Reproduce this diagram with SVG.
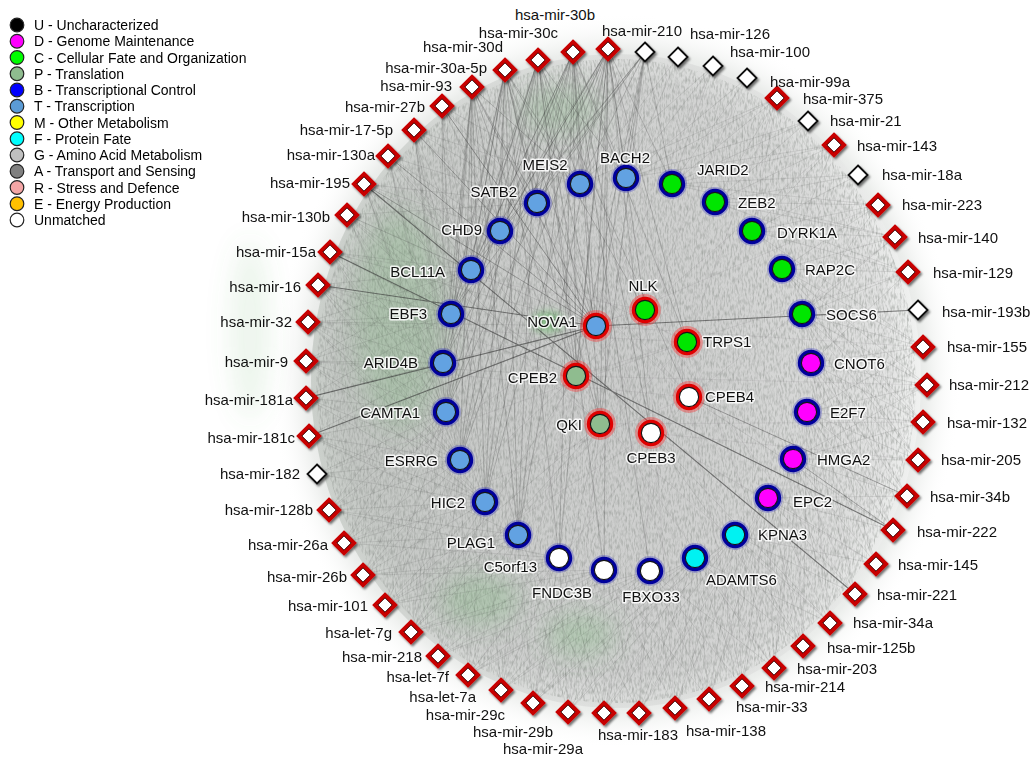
<svg xmlns="http://www.w3.org/2000/svg" width="1035" height="760" viewBox="0 0 1035 760">
<style>
  text { font-family: "Liberation Sans", Arial, sans-serif; }
  .m { font-size: 15px; fill: #111; }
  .g { font-size: 15px; fill: #111; stroke: #fff; stroke-width: 3; stroke-opacity: .85; paint-order: stroke; stroke-linejoin: round; }
  .lg { font-size: 14px; fill: #000; }
  .e { fill: none; stroke: #454545; stroke-opacity: .17; stroke-width: .7; }
  .eh { fill: none; stroke: #3a3a3a; stroke-opacity: .3; stroke-width: .8; }
  .ex { fill: none; stroke: #5a4a5a; stroke-opacity: .12; stroke-width: .7; }
  .d { fill: none; stroke: #333; stroke-opacity: .6; stroke-width: 1.1; }
  .d2 { fill: none; stroke: #333; stroke-opacity: .38; stroke-width: .9; }
  .in { stroke: #151515; stroke-width: 1.1; }
  .fT { fill: #62a2e2; } .fC { fill: #00e600; } .fD { fill: #ff00ff; }
  .fF { fill: #00f2f2; } .fP { fill: #8fbc8f; } .fU { fill: #fff; }
  .lc { stroke: #222; stroke-width: 1.2; }
</style>
<defs>
  <filter id="sh" x="-60%" y="-60%" width="220%" height="220%">
    <feDropShadow dx="1.6" dy="2" stdDeviation="1.1" flood-color="#000" flood-opacity=".55"/>
  </filter>
  <filter id="grain" x="0" y="0" width="1" height="1">
    <feTurbulence type="fractalNoise" baseFrequency="0.55 0.18" numOctaves="2" seed="4"/>
    <feColorMatrix type="matrix" values="0 0 0 0 .25  0 0 0 0 .27  0 0 0 0 .25  0 0 0 2.2 -0.9"/>
    <feComposite in2="SourceGraphic" operator="in"/>
  </filter>
  <filter id="blur12" x="-50%" y="-50%" width="200%" height="200%"><feGaussianBlur stdDeviation="12"/></filter>
  <filter id="blur5" x="-50%" y="-50%" width="200%" height="200%"><feGaussianBlur stdDeviation="5"/></filter>
  <radialGradient id="halo" cx=".5" cy=".5" r=".5">
    <stop offset="0" stop-color="#d4d5d4"/>
    <stop offset=".8" stop-color="#dadbda"/>
    <stop offset=".9" stop-color="#eceeec"/>
    <stop offset="1" stop-color="#fff" stop-opacity="0"/>
  </radialGradient>
  <linearGradient id="side" x1="0" y1="0" x2="1" y2="0">
    <stop offset="0" stop-color="#7d8a7d" stop-opacity=".28"/>
    <stop offset=".45" stop-color="#8a8a8a" stop-opacity=".12"/>
    <stop offset="1" stop-color="#fff" stop-opacity=".35"/>
  </linearGradient>
  <!-- miRNA diamonds -->
  <g id="dR" filter="url(#sh)">
    <path d="M0-10L10 0L0 10L-10 0Z" fill="#fff" stroke="#c80000" stroke-width="4"/>
    <path d="M0-7.2L7.2 0L0 7.2L-7.2 0Z" fill="none" stroke="#2a0000" stroke-width=".9"/>
  </g>
  <g id="dW" filter="url(#sh)">
    <path d="M0-9.5L9.5 0L0 9.5L-9.5 0Z" fill="#fff" stroke="#111" stroke-width="1.8"/>
  </g>
  <!-- gene rings -->
  <g id="rB">
    <circle r="12" fill="none" stroke="#3030c0" stroke-opacity=".3" stroke-width="6"/>
    <circle r="11.4" fill="none" stroke="#00009c" stroke-width="3.6"/>
  </g>
  <g id="rR">
    <circle r="12.4" fill="none" stroke="#ff2020" stroke-opacity=".35" stroke-width="7"/>
    <circle r="11.4" fill="none" stroke="#e00000" stroke-width="3.6"/>
  </g>
</defs>

<rect width="1035" height="760" fill="#fff"/>

<!-- network backdrop -->
<g id="backdrop">
  <ellipse cx="616" cy="381" rx="345" ry="368" fill="url(#halo)"/>
  <ellipse cx="616" cy="381" rx="305" ry="327" fill="url(#side)"/>
  <ellipse cx="616" cy="381" rx="300" ry="322" fill="#000" opacity=".55" filter="url(#grain)"/>
  <g fill="#5faa5f" filter="url(#blur12)">
    <ellipse cx="400" cy="320" rx="45" ry="110" opacity=".22"/>
    <ellipse cx="480" cy="600" rx="40" ry="25" opacity=".25"/>
    <ellipse cx="580" cy="635" rx="35" ry="22" opacity=".25"/>
    <ellipse cx="560" cy="110" rx="40" ry="25" opacity=".2"/>
    <ellipse cx="250" cy="330" rx="20" ry="90" opacity=".12"/>
  </g>
  <ellipse cx="548" cy="322" rx="16" ry="10" fill="#3fb03f" opacity=".45" filter="url(#blur5)"/>
</g>

<!-- connectors -->
<g id="edges">
  <path class="eh" d="M608 49L580 184M608 49L626 178M608 49L537 203M608 49L500 231M608 49L471 270M608 49L451 314M608 49L443 363M608 49L446 412M608 49L460 460M608 49L485 502M608 49L518 535M608 49L559 558M608 49L604 570M608 49L596 326M608 49L645 310M608 49L576 376M608 49L600 424M608 49L651 433M608 49L672 184M608 49L687 342"/>
  <path class="eh" d="M573 52L580 184M573 52L537 203M573 52L500 231M573 52L471 270M573 52L451 314M573 52L443 363M573 52L446 412M573 52L460 460M573 52L485 502M573 52L518 535M573 52L559 558M573 52L596 326M573 52L576 376M573 52L600 424M573 52L626 178M573 52L650 571M573 52L651 433M573 52L687 342"/>
  <path class="eh" d="M538 60L580 184M538 60L537 203M538 60L500 231M538 60L471 270M538 60L451 314M538 60L443 363M538 60L446 412M538 60L460 460M538 60L485 502M538 60L518 535M538 60L596 326M538 60L576 376M538 60L600 424M538 60L604 570M538 60L626 178M538 60L689 397"/>
  <path class="eh" d="M505 70L537 203M505 70L500 231M505 70L471 270M505 70L451 314M505 70L443 363M505 70L446 412M505 70L460 460M505 70L485 502M505 70L518 535M505 70L559 558M505 70L596 326M505 70L576 376M505 70L580 184M505 70L600 424M505 70L645 310"/>
  <path class="eh" d="M472 87L537 203M472 87L500 231M472 87L471 270M472 87L451 314M472 87L443 363M472 87L446 412M472 87L460 460M472 87L485 502M472 87L596 326M472 87L580 184M472 87L576 376M472 87L518 535"/>
  <path class="eh" d="M645 52L580 184M645 52L626 178M645 52L537 203M645 52L500 231M645 52L672 184M645 52L596 326M645 52L576 376M645 52L600 424M645 52L471 270M645 52L451 314"/>
  <path class="e" d="M442 106L500 231M442 106L471 270M442 106L451 314M442 106L443 363M442 106L446 412M442 106L460 460M442 106L596 326M442 106L580 184M442 106L537 203M442 106L576 376M442 106L485 502"/>
  <path class="e" d="M414 130L500 231M414 130L471 270M414 130L451 314M414 130L443 363M414 130L446 412M414 130L460 460M414 130L537 203M414 130L580 184M414 130L485 502M414 130L518 535"/>
  <path class="e" d="M388 156L471 270M388 156L451 314M388 156L443 363M388 156L446 412M388 156L537 203M388 156L500 231M388 156L460 460M388 156L576 376"/>
  <path class="e" d="M364 184L471 270M364 184L451 314M364 184L443 363M364 184L446 412M364 184L500 231M364 184L537 203M364 184L460 460M364 184L485 502M364 184L600 424"/>
  <path class="e" d="M347 215L451 314M347 215L443 363M347 215L446 412M347 215L596 326M347 215L471 270M347 215L460 460M347 215L576 376M347 215L537 203"/>
  <path class="e" d="M330 252L451 314M330 252L471 270M330 252L443 363M330 252L446 412M330 252L596 326M330 252L460 460"/>
  <path class="e" d="M318 285L451 314M318 285L443 363M318 285L446 412M318 285L471 270M318 285L460 460M318 285L485 502"/>
  <path class="e" d="M308 322L443 363M308 322L446 412M308 322L451 314M308 322L460 460M308 322L471 270M308 322L485 502M308 322L596 326"/>
  <path class="e" d="M306 361L443 363M306 361L446 412M306 361L451 314M306 361L460 460M306 361L485 502M306 361L471 270M306 361L576 376"/>
  <path class="e" d="M306 398L446 412M306 398L443 363M306 398L460 460M306 398L451 314M306 398L485 502"/>
  <path class="e" d="M309 436L446 412M309 436L460 460M309 436L443 363M309 436L485 502M309 436L518 535"/>
  <path class="e" d="M317 474L446 412M317 474L460 460M317 474L485 502"/>
  <path class="e" d="M329 510L460 460M329 510L485 502M329 510L446 412M329 510L518 535M329 510L443 363M329 510L559 558"/>
  <path class="e" d="M344 543L485 502M344 543L460 460M344 543L518 535M344 543L446 412M344 543L559 558M344 543L443 363"/>
  <path class="e" d="M363 575L485 502M363 575L518 535M363 575L460 460M363 575L559 558M363 575L446 412M363 575L604 570"/>
  <path class="e" d="M385 605L518 535M385 605L485 502M385 605L559 558M385 605L460 460M385 605L604 570M385 605L446 412M385 605L600 424"/>
  <path class="e" d="M411 632L518 535M411 632L559 558M411 632L485 502M411 632L604 570M411 632L460 460M411 632L650 571M411 632L446 412M411 632L600 424M411 632L576 376"/>
  <path class="e" d="M438 656L559 558M438 656L518 535M438 656L604 570M438 656L485 502M438 656L650 571M438 656L460 460"/>
  <path class="e" d="M468 675L559 558M468 675L604 570M468 675L518 535M468 675L650 571M468 675L485 502M468 675L695 558M468 675L460 460"/>
  <path class="e" d="M501 690L604 570M501 690L559 558M501 690L650 571M501 690L518 535M501 690L695 558M501 690L485 502"/>
  <path class="e" d="M533 703L604 570M533 703L650 571M533 703L559 558M533 703L695 558M533 703L518 535M533 703L735 535M533 703L600 424"/>
  <path class="e" d="M568 712L604 570M568 712L650 571M568 712L559 558M568 712L695 558M568 712L518 535M568 712L735 535"/>
  <path class="e" d="M604 713L650 571M604 713L604 570M604 713L695 558M604 713L559 558M604 713L735 535M604 713L518 535"/>
  <path class="e" d="M639 713L650 571M639 713L695 558M639 713L604 570M639 713L735 535M639 713L559 558M639 713L768 498"/>
  <path class="e" d="M675 708L695 558M675 708L650 571M675 708L735 535M675 708L604 570M675 708L768 498"/>
  <path class="e" d="M709 699L695 558M709 699L735 535M709 699L650 571M709 699L768 498M709 699L604 570M709 699L793 459"/>
  <path class="e" d="M742 686L735 535M742 686L695 558M742 686L768 498M742 686L650 571M742 686L793 459"/>
  <path class="e" d="M774 668L735 535M774 668L768 498M774 668L695 558M774 668L793 459M774 668L650 571M774 668L807 412"/>
  <path class="e" d="M803 646L768 498M803 646L735 535M803 646L793 459M803 646L695 558M803 646L807 412M803 646L651 433"/>
  <path class="e" d="M830 623L768 498M830 623L793 459M830 623L735 535M830 623L807 412M830 623L695 558M830 623L651 433"/>
  <path class="e" d="M855 594L793 459M855 594L768 498M855 594L807 412M855 594L735 535M855 594L811 363"/>
  <path class="e" d="M876 564L793 459M876 564L807 412M876 564L768 498M876 564L811 363M876 564L735 535"/>
  <path class="e" d="M893 530L807 412M893 530L811 363M893 530L768 498M893 530L802 314M893 530L689 397"/>
  <path class="e" d="M907 496L807 412M907 496L811 363M907 496L793 459M907 496L802 314M907 496L768 498"/>
  <path class="e" d="M918 460L811 363M918 460L807 412M918 460L793 459M918 460L802 314M918 460L782 269"/>
  <path class="e" d="M923 422L811 363M923 422L807 412M923 422L802 314M923 422L793 459M923 422L782 269"/>
  <path class="e" d="M927 385L811 363M927 385L802 314M927 385L807 412M927 385L782 269M927 385L793 459"/>
  <path class="e" d="M923 347L802 314M923 347L811 363M923 347L782 269M923 347L807 412M923 347L752 231"/>
  <path class="e" d="M908 272L782 269M908 272L802 314M908 272L752 231M908 272L811 363M908 272L715 202"/>
  <path class="e" d="M895 237L752 231M895 237L782 269M895 237L715 202M895 237L802 314M895 237L672 184"/>
  <path class="e" d="M878 205L752 231M878 205L715 202M878 205L782 269M878 205L672 184M878 205L802 314"/>
  <path class="e" d="M858 175L715 202M858 175L752 231M858 175L672 184"/>
  <path class="e" d="M834 145L715 202M834 145L672 184M834 145L752 231M834 145L626 178M834 145L782 269"/>
  <path class="e" d="M808 121L672 184M808 121L715 202M808 121L626 178"/>
  <path class="e" d="M777 98L672 184M777 98L626 178M777 98L715 202M777 98L752 231M777 98L580 184"/>
  <path class="e" d="M747 78L626 178M747 78L672 184M713 66L626 178M713 66L580 184M713 66L672 184M678 57L626 178M678 57L580 184"/>
  <!-- long edges across the ring -->
  <path class="ex" d="M923 347L596 326M927 385L576 376M923 422L600 424M918 460L651 433M907 496L689 397M876 564L651 433M830 623L600 424M774 668L576 376M709 699L596 326M639 713L651 433M568 712L600 424M501 690L576 376M438 656L596 326M385 605L651 433M344 543L689 397M317 474L687 342M306 398L645 310M308 322L687 342M330 252L645 310M364 184L687 342M414 130L689 397M472 87L651 433M538 60L645 310M573 52L689 397M713 66L596 326M747 78L645 310M777 98L687 342M834 145L645 310M878 205L596 326M895 237L689 397M908 272L576 376"/>
  <path class="ex" d="M855 594L645 310M803 646L687 342M742 686L689 397M675 708L645 310M604 713L687 342M533 703L645 310M468 675L689 397M411 632L687 342M363 575L645 310M329 510L596 326M306 361L689 397M318 285L576 376M347 215L600 424M388 156L651 433M442 106L689 397M505 70L651 433M608 49L689 397"/>
  <!-- prominent edges -->
  <path class="d2" d="M414 130L596 326M442 106L596 326M388 156L596 326M364 184L596 326M793 459L893 530M689 397L907 496"/>
  <path class="d" d="M318 285L596 326M330 252L893 530M306 398L596 326M309 436L596 326M918 310L596 326M364 184L855 594"/>
</g>

<!-- genes, outer ring -->
<g id="g-MEIS2"><use href="#rB" x="580" y="184"/><circle class="in fT" cx="580" cy="184" r="9.6"/><text class="g" x="545" y="170" text-anchor="middle">MEIS2</text></g>
<g id="g-BACH2"><use href="#rB" x="626" y="178"/><circle class="in fT" cx="626" cy="178" r="9.6"/><text class="g" x="625" y="163" text-anchor="middle">BACH2</text></g>
<g id="g-JARID2"><use href="#rB" x="672" y="184"/><circle class="in fC" cx="672" cy="184" r="9.6"/><text class="g" x="697" y="175">JARID2</text></g>
<g id="g-ZEB2"><use href="#rB" x="715" y="202"/><circle class="in fC" cx="715" cy="202" r="9.6"/><text class="g" x="738" y="208">ZEB2</text></g>
<g id="g-DYRK1A"><use href="#rB" x="752" y="231"/><circle class="in fC" cx="752" cy="231" r="9.6"/><text class="g" x="777" y="238">DYRK1A</text></g>
<g id="g-RAP2C"><use href="#rB" x="782" y="269"/><circle class="in fC" cx="782" cy="269" r="9.6"/><text class="g" x="805" y="275">RAP2C</text></g>
<g id="g-SOCS6"><use href="#rB" x="802" y="314"/><circle class="in fC" cx="802" cy="314" r="9.6"/><text class="g" x="826" y="320">SOCS6</text></g>
<g id="g-CNOT6"><use href="#rB" x="811" y="363"/><circle class="in fD" cx="811" cy="363" r="9.6"/><text class="g" x="834" y="369">CNOT6</text></g>
<g id="g-E2F7"><use href="#rB" x="807" y="412"/><circle class="in fD" cx="807" cy="412" r="9.6"/><text class="g" x="830" y="418">E2F7</text></g>
<g id="g-HMGA2"><use href="#rB" x="793" y="459"/><circle class="in fD" cx="793" cy="459" r="9.6"/><text class="g" x="817" y="465">HMGA2</text></g>
<g id="g-EPC2"><use href="#rB" x="768" y="498"/><circle class="in fD" cx="768" cy="498" r="9.6"/><text class="g" x="793" y="507">EPC2</text></g>
<g id="g-KPNA3"><use href="#rB" x="735" y="535"/><circle class="in fF" cx="735" cy="535" r="9.6"/><text class="g" x="758" y="540">KPNA3</text></g>
<g id="g-ADAMTS6"><use href="#rB" x="695" y="558"/><circle class="in fF" cx="695" cy="558" r="9.6"/><text class="g" x="706" y="585">ADAMTS6</text></g>
<g id="g-FBXO33"><use href="#rB" x="650" y="571"/><circle class="in fU" cx="650" cy="571" r="9.6"/><text class="g" x="651" y="602" text-anchor="middle">FBXO33</text></g>
<g id="g-FNDC3B"><use href="#rB" x="604" y="570"/><circle class="in fU" cx="604" cy="570" r="9.6"/><text class="g" x="562" y="598" text-anchor="middle">FNDC3B</text></g>
<g id="g-C5orf13"><use href="#rB" x="559" y="558"/><circle class="in fU" cx="559" cy="558" r="9.6"/><text class="g" x="537" y="572" text-anchor="end">C5orf13</text></g>
<g id="g-PLAG1"><use href="#rB" x="518" y="535"/><circle class="in fT" cx="518" cy="535" r="9.6"/><text class="g" x="495" y="548" text-anchor="end">PLAG1</text></g>
<g id="g-HIC2"><use href="#rB" x="485" y="502"/><circle class="in fT" cx="485" cy="502" r="9.6"/><text class="g" x="465" y="508" text-anchor="end">HIC2</text></g>
<g id="g-ESRRG"><use href="#rB" x="460" y="460"/><circle class="in fT" cx="460" cy="460" r="9.6"/><text class="g" x="438" y="466" text-anchor="end">ESRRG</text></g>
<g id="g-CAMTA1"><use href="#rB" x="446" y="412"/><circle class="in fT" cx="446" cy="412" r="9.6"/><text class="g" x="420" y="418" text-anchor="end">CAMTA1</text></g>
<g id="g-ARID4B"><use href="#rB" x="443" y="363"/><circle class="in fT" cx="443" cy="363" r="9.6"/><text class="g" x="418" y="368" text-anchor="end">ARID4B</text></g>
<g id="g-EBF3"><use href="#rB" x="451" y="314"/><circle class="in fT" cx="451" cy="314" r="9.6"/><text class="g" x="427" y="319" text-anchor="end">EBF3</text></g>
<g id="g-BCL11A"><use href="#rB" x="471" y="270"/><circle class="in fT" cx="471" cy="270" r="9.6"/><text class="g" x="445" y="277" text-anchor="end">BCL11A</text></g>
<g id="g-CHD9"><use href="#rB" x="500" y="231"/><circle class="in fT" cx="500" cy="231" r="9.6"/><text class="g" x="482" y="235" text-anchor="end">CHD9</text></g>
<g id="g-SATB2"><use href="#rB" x="537" y="203"/><circle class="in fT" cx="537" cy="203" r="9.6"/><text class="g" x="517" y="197" text-anchor="end">SATB2</text></g>

<!-- genes, inner group -->
<g id="g-NOVA1"><use href="#rR" x="596" y="326"/><circle class="in fT" cx="596" cy="326" r="9.6"/><text class="g" x="577" y="327" text-anchor="end">NOVA1</text></g>
<g id="g-NLK"><use href="#rR" x="645" y="310"/><circle class="in fC" cx="645" cy="310" r="9.6"/><text class="g" x="643" y="291" text-anchor="middle">NLK</text></g>
<g id="g-TRPS1"><use href="#rR" x="687" y="342"/><circle class="in fC" cx="687" cy="342" r="9.6"/><text class="g" x="703" y="347">TRPS1</text></g>
<g id="g-CPEB2"><use href="#rR" x="576" y="376"/><circle class="in fP" cx="576" cy="376" r="9.6"/><text class="g" x="557" y="383" text-anchor="end">CPEB2</text></g>
<g id="g-CPEB4"><use href="#rR" x="689" y="397"/><circle class="in fU" cx="689" cy="397" r="9.6"/><text class="g" x="705" y="402">CPEB4</text></g>
<g id="g-QKI"><use href="#rR" x="600" y="424"/><circle class="in fP" cx="600" cy="424" r="9.6"/><text class="g" x="582" y="430" text-anchor="end">QKI</text></g>
<g id="g-CPEB3"><use href="#rR" x="651" y="433"/><circle class="in fU" cx="651" cy="433" r="9.6"/><text class="g" x="651" y="463" text-anchor="middle">CPEB3</text></g>

<!-- miRNAs -->
<g id="m-30b"><use href="#dR" x="608" y="49"/><text class="m" x="595" y="20" text-anchor="end">hsa-mir-30b</text></g>
<g id="m-30c"><use href="#dR" x="573" y="52"/><text class="m" x="558" y="38" text-anchor="end">hsa-mir-30c</text></g>
<g id="m-30d"><use href="#dR" x="538" y="60"/><text class="m" x="503" y="52" text-anchor="end">hsa-mir-30d</text></g>
<g id="m-30a-5p"><use href="#dR" x="505" y="70"/><text class="m" x="487" y="73" text-anchor="end">hsa-mir-30a-5p</text></g>
<g id="m-93"><use href="#dR" x="472" y="87"/><text class="m" x="452" y="91" text-anchor="end">hsa-mir-93</text></g>
<g id="m-27b"><use href="#dR" x="442" y="106"/><text class="m" x="425" y="112" text-anchor="end">hsa-mir-27b</text></g>
<g id="m-17-5p"><use href="#dR" x="414" y="130"/><text class="m" x="393" y="135" text-anchor="end">hsa-mir-17-5p</text></g>
<g id="m-130a"><use href="#dR" x="388" y="156"/><text class="m" x="375" y="160" text-anchor="end">hsa-mir-130a</text></g>
<g id="m-195"><use href="#dR" x="364" y="184"/><text class="m" x="350" y="188" text-anchor="end">hsa-mir-195</text></g>
<g id="m-130b"><use href="#dR" x="347" y="215"/><text class="m" x="330" y="222" text-anchor="end">hsa-mir-130b</text></g>
<g id="m-15a"><use href="#dR" x="330" y="252"/><text class="m" x="316" y="257" text-anchor="end">hsa-mir-15a</text></g>
<g id="m-16"><use href="#dR" x="318" y="285"/><text class="m" x="301" y="292" text-anchor="end">hsa-mir-16</text></g>
<g id="m-32"><use href="#dR" x="308" y="322"/><text class="m" x="292" y="327" text-anchor="end">hsa-mir-32</text></g>
<g id="m-9"><use href="#dR" x="306" y="361"/><text class="m" x="288" y="367" text-anchor="end">hsa-mir-9</text></g>
<g id="m-181a"><use href="#dR" x="306" y="398"/><text class="m" x="293" y="405" text-anchor="end">hsa-mir-181a</text></g>
<g id="m-181c"><use href="#dR" x="309" y="436"/><text class="m" x="295" y="443" text-anchor="end">hsa-mir-181c</text></g>
<g id="m-182"><use href="#dW" x="317" y="474"/><text class="m" x="300" y="479" text-anchor="end">hsa-mir-182</text></g>
<g id="m-128b"><use href="#dR" x="329" y="510"/><text class="m" x="313" y="515" text-anchor="end">hsa-mir-128b</text></g>
<g id="m-26a"><use href="#dR" x="344" y="543"/><text class="m" x="328" y="550" text-anchor="end">hsa-mir-26a</text></g>
<g id="m-26b"><use href="#dR" x="363" y="575"/><text class="m" x="347" y="582" text-anchor="end">hsa-mir-26b</text></g>
<g id="m-101"><use href="#dR" x="385" y="605"/><text class="m" x="368" y="611" text-anchor="end">hsa-mir-101</text></g>
<g id="m-let-7g"><use href="#dR" x="411" y="632"/><text class="m" x="392" y="638" text-anchor="end">hsa-let-7g</text></g>
<g id="m-218"><use href="#dR" x="438" y="656"/><text class="m" x="422" y="662" text-anchor="end">hsa-mir-218</text></g>
<g id="m-let-7f"><use href="#dR" x="468" y="675"/><text class="m" x="449" y="682" text-anchor="end">hsa-let-7f</text></g>
<g id="m-let-7a"><use href="#dR" x="501" y="690"/><text class="m" x="476" y="702" text-anchor="end">hsa-let-7a</text></g>
<g id="m-29c"><use href="#dR" x="533" y="703"/><text class="m" x="505" y="720" text-anchor="end">hsa-mir-29c</text></g>
<g id="m-29b"><use href="#dR" x="568" y="712"/><text class="m" x="553" y="737" text-anchor="end">hsa-mir-29b</text></g>
<g id="m-29a"><use href="#dR" x="604" y="713"/><text class="m" x="583" y="754" text-anchor="end">hsa-mir-29a</text></g>
<g id="m-183"><use href="#dR" x="639" y="713"/><text class="m" x="598" y="740">hsa-mir-183</text></g>
<g id="m-138"><use href="#dR" x="675" y="708"/><text class="m" x="686" y="736">hsa-mir-138</text></g>
<g id="m-33"><use href="#dR" x="709" y="699"/><text class="m" x="736" y="712">hsa-mir-33</text></g>
<g id="m-214"><use href="#dR" x="742" y="686"/><text class="m" x="765" y="692">hsa-mir-214</text></g>
<g id="m-203"><use href="#dR" x="774" y="668"/><text class="m" x="797" y="674">hsa-mir-203</text></g>
<g id="m-125b"><use href="#dR" x="803" y="646"/><text class="m" x="827" y="653">hsa-mir-125b</text></g>
<g id="m-34a"><use href="#dR" x="830" y="623"/><text class="m" x="853" y="628">hsa-mir-34a</text></g>
<g id="m-221"><use href="#dR" x="855" y="594"/><text class="m" x="877" y="600">hsa-mir-221</text></g>
<g id="m-145"><use href="#dR" x="876" y="564"/><text class="m" x="898" y="570">hsa-mir-145</text></g>
<g id="m-222"><use href="#dR" x="893" y="530"/><text class="m" x="917" y="537">hsa-mir-222</text></g>
<g id="m-34b"><use href="#dR" x="907" y="496"/><text class="m" x="930" y="502">hsa-mir-34b</text></g>
<g id="m-205"><use href="#dR" x="918" y="460"/><text class="m" x="941" y="465">hsa-mir-205</text></g>
<g id="m-132"><use href="#dR" x="923" y="422"/><text class="m" x="947" y="428">hsa-mir-132</text></g>
<g id="m-212"><use href="#dR" x="927" y="385"/><text class="m" x="949" y="390">hsa-mir-212</text></g>
<g id="m-155"><use href="#dR" x="923" y="347"/><text class="m" x="947" y="352">hsa-mir-155</text></g>
<g id="m-193b"><use href="#dW" x="918" y="310"/><text class="m" x="942" y="317">hsa-mir-193b</text></g>
<g id="m-129"><use href="#dR" x="908" y="272"/><text class="m" x="933" y="278">hsa-mir-129</text></g>
<g id="m-140"><use href="#dR" x="895" y="237"/><text class="m" x="918" y="243">hsa-mir-140</text></g>
<g id="m-223"><use href="#dR" x="878" y="205"/><text class="m" x="902" y="210">hsa-mir-223</text></g>
<g id="m-18a"><use href="#dW" x="858" y="175"/><text class="m" x="882" y="180">hsa-mir-18a</text></g>
<g id="m-143"><use href="#dR" x="834" y="145"/><text class="m" x="857" y="151">hsa-mir-143</text></g>
<g id="m-21"><use href="#dW" x="808" y="121"/><text class="m" x="830" y="126">hsa-mir-21</text></g>
<g id="m-375"><use href="#dR" x="777" y="98"/><text class="m" x="803" y="104">hsa-mir-375</text></g>
<g id="m-99a"><use href="#dW" x="747" y="78"/><text class="m" x="770" y="87">hsa-mir-99a</text></g>
<g id="m-100"><use href="#dW" x="713" y="66"/><text class="m" x="730" y="57">hsa-mir-100</text></g>
<g id="m-126"><use href="#dW" x="678" y="57"/><text class="m" x="690" y="39">hsa-mir-126</text></g>
<g id="m-210"><use href="#dW" x="645" y="52"/><text class="m" x="602" y="36">hsa-mir-210</text></g>

<!-- legend -->
<g id="legend">
  <circle class="lc" cx="17" cy="25" r="6.8" fill="#000"/><text class="lg" x="34" y="30">U - Uncharacterized</text>
  <circle class="lc" cx="17" cy="41.25" r="6.8" fill="#ff00ff"/><text class="lg" x="34" y="46.25">D - Genome Maintenance</text>
  <circle class="lc" cx="17" cy="57.5" r="6.8" fill="#00ff00"/><text class="lg" x="34" y="62.5">C - Cellular Fate and Organization</text>
  <circle class="lc" cx="17" cy="73.75" r="6.8" fill="#8fbc8f"/><text class="lg" x="34" y="78.75">P - Translation</text>
  <circle class="lc" cx="17" cy="90" r="6.8" fill="#0000ff"/><text class="lg" x="34" y="95">B - Transcriptional Control</text>
  <circle class="lc" cx="17" cy="106.25" r="6.8" fill="#5b9bd5"/><text class="lg" x="34" y="111.25">T - Transcription</text>
  <circle class="lc" cx="17" cy="122.5" r="6.8" fill="#ffff00"/><text class="lg" x="34" y="127.5">M - Other Metabolism</text>
  <circle class="lc" cx="17" cy="138.75" r="6.8" fill="#00ffff"/><text class="lg" x="34" y="143.75">F - Protein Fate</text>
  <circle class="lc" cx="17" cy="155" r="6.8" fill="#c0c0c0"/><text class="lg" x="34" y="160">G - Amino Acid Metabolism</text>
  <circle class="lc" cx="17" cy="171.25" r="6.8" fill="#808080"/><text class="lg" x="34" y="176.25">A - Transport and Sensing</text>
  <circle class="lc" cx="17" cy="187.5" r="6.8" fill="#f4a6a6"/><text class="lg" x="34" y="192.5">R - Stress and Defence</text>
  <circle class="lc" cx="17" cy="203.75" r="6.8" fill="#ffc000"/><text class="lg" x="34" y="208.75">E - Energy Production</text>
  <circle class="lc" cx="17" cy="220" r="6.8" fill="#fff"/><text class="lg" x="34" y="225">Unmatched</text>
</g>
</svg>
